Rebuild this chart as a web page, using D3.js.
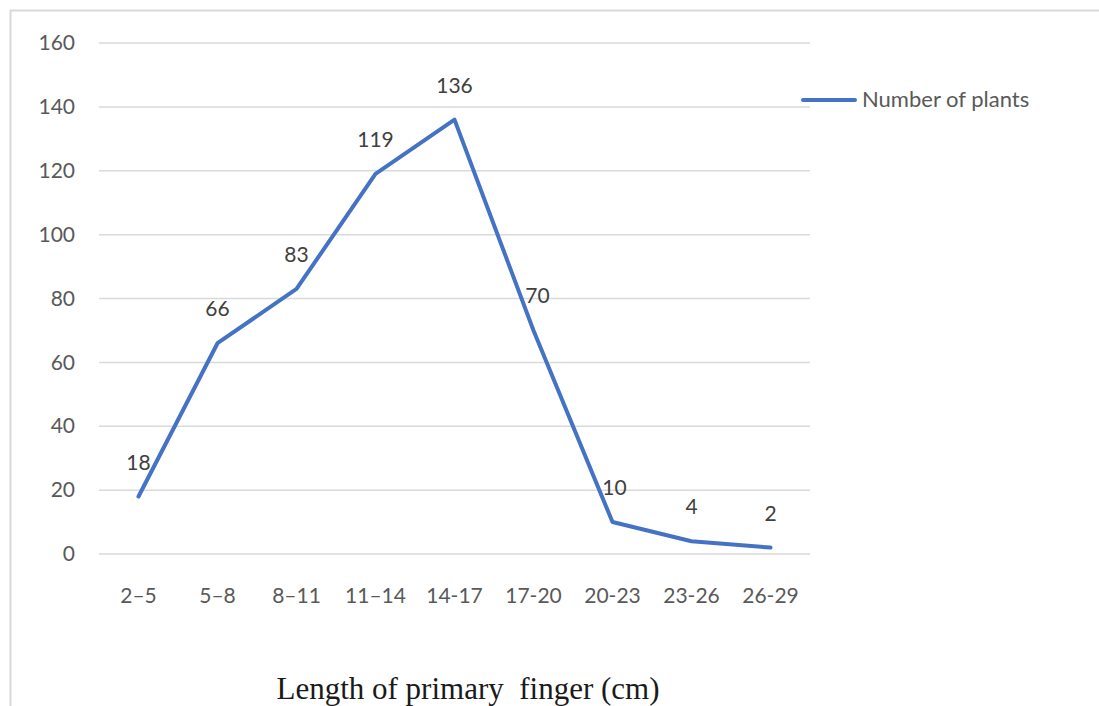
<!DOCTYPE html>
<html><head><meta charset="utf-8">
<script src="https://cdn.jsdelivr.net/npm/d3@7"></script>
<style>body{margin:0;background:#fff;}svg{display:block;}</style>
</head><body>
<svg id="chart" width="1099" height="706"></svg>
<script>
const categories = ["2–5","5–8","8–11","11–14","14-17","17-20","20-23","23-26","26-29"];
const values = [18,66,83,119,136,70,10,4,2];
const yTicks = [0,20,40,60,80,100,120,140,160];
const seriesName = "Number of plants";
const xTitle = "Length of primary  finger (cm)";

(function(){
const svg = d3.select("#chart");
const mLeft = 99, mRight = 810, mTop = 43, mBottom = 554;
const font = "Lato, 'Open Sans', sans-serif";
const textColor = "#595959";

svg.append("rect").attr("x",10.5).attr("y",10.5).attr("width",1100).attr("height",720)
  .attr("fill","#fff").attr("stroke","#d9d9d9").attr("stroke-width",2);

const x = d3.scaleBand().domain(categories).range([mLeft,mRight]);
const y = d3.scaleLinear().domain([0,160]).range([mBottom,mTop]);

// gridlines
svg.append("g").selectAll("line").data(yTicks).join("line")
  .attr("x1",mLeft).attr("x2",mRight)
  .attr("y1",d=>y(d)).attr("y2",d=>y(d))
  .attr("stroke","#d9d9d9").attr("stroke-width",1.5);

// y axis labels
const yAxis = svg.append("g").attr("transform",`translate(${mLeft},0)`)
  .call(d3.axisLeft(y).tickValues(yTicks).tickSize(0).tickPadding(24));
yAxis.select(".domain").remove();
yAxis.selectAll("text").attr("font-family",font).attr("font-size",21).attr("fill",textColor);

// x axis labels
const xAxis = svg.append("g").attr("transform",`translate(0,${mBottom})`)
  .call(d3.axisBottom(x).tickSize(0).tickPadding(34));
xAxis.select(".domain").remove();
xAxis.selectAll("text").attr("font-family",font).attr("font-size",21).attr("fill",textColor);

// line
const line = d3.line().x((d,i)=>x(categories[i])+x.bandwidth()/2).y(d=>y(d));
svg.append("path").datum(values).attr("d",line)
  .attr("fill","none").attr("stroke","#4472C4").attr("stroke-width",4)
  .attr("stroke-linejoin","round").attr("stroke-linecap","round");

// data labels
svg.append("g").selectAll("text").data(values).join("text")
  .attr("x",(d,i)=>x(categories[i])+x.bandwidth()/2 + (i===5?4:(i===6?2:0)))
  .attr("y",d=>y(d)-27)
  .attr("text-anchor","middle")
  .attr("font-family",font).attr("font-size",21).attr("fill","#404040")
  .text(d=>d);

// legend
svg.append("line").attr("x1",803).attr("x2",855).attr("y1",100).attr("y2",100)
  .attr("stroke","#4472C4").attr("stroke-width",4).attr("stroke-linecap","round");
svg.append("text").attr("x",862).attr("y",107)
  .attr("font-family",font).attr("font-size",22).attr("fill",textColor).text(seriesName);

// x title
svg.append("text").attr("x",468).attr("y",699).attr("text-anchor","middle")
  .attr("font-family","'Liberation Serif', 'Times New Roman', serif").attr("font-size",31)
  .attr("fill","#1a1a1a").attr("xml:space","preserve").style("white-space","pre").text(xTitle);
})();
</script>
</body></html>
